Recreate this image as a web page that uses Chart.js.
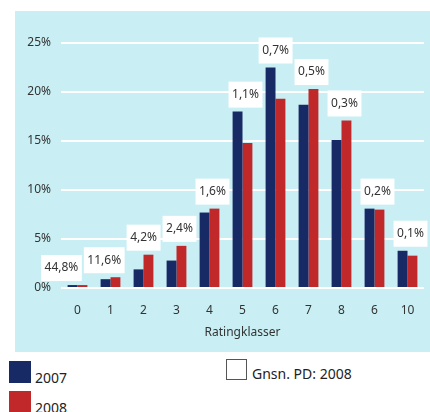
<!DOCTYPE html>
<html>
<head>
<meta charset="utf-8">
<script src="https://cdn.jsdelivr.net/npm/chart.js@4/dist/chart.umd.min.js"></script>
<style>
  html, body { margin: 0; padding: 0; background: #ffffff; width: 430px; height: 412px; overflow: hidden; position: relative; font-family: "Noto Sans", sans-serif; }
  #panel { position: absolute; left: 15px; top: 11px; width: 415px; height: 341px; background: #c9eff4; }
  #wrap { position: absolute; left: 15px; top: 11px; width: 415px; height: 341px; }
  .sw { position: absolute; width: 22px; height: 22px; }
  .lt { position: absolute; font-size: 14px; color: #222; line-height: 16px; white-space: nowrap; }
</style>
</head>
<body>
<div id="panel"></div>
<div id="wrap"><canvas id="c" width="415" height="341"></canvas></div>
<div class="sw" style="left:9px;top:361px;background:#172a66;"></div>
<div class="lt" style="left:35px;top:370px;">2007</div>
<div class="sw" style="left:9px;top:391px;background:#c0282a;"></div>
<div class="lt" style="left:35px;top:400px;">2008</div>
<div class="sw" style="left:226px;top:359px;width:19px;height:19px;border:1.5px solid #555;background:#fff;"></div>
<div class="lt" style="left:252px;top:366px;">Gnsn. PD: 2008</div>
<script>
const categories = ["0", "1", "2", "3", "4", "5", "6", "7", "8", "6", "10"];
const values2007 = [0.3, 0.9, 1.9, 2.8, 7.7, 18.0, 22.5, 18.7, 15.1, 8.1, 3.8];
const values2008 = [0.3, 1.1, 3.4, 4.3, 8.1, 14.8, 19.3, 20.3, 17.1, 8.0, 3.3];
const pdLabels = ["44,8%", "11,6%", "4,2%", "2,4%", "1,6%", "1,1%", "0,7%", "0,5%", "0,3%", "0,2%", "0,1%"];
const yTicks = [0, 5, 10, 15, 20, 25];

const pdBoxes = {
  id: 'pdBoxes',
  afterDatasetsDraw(chart) {
    const ctx = chart.ctx;
    const x = chart.scales.x, y = chart.scales.y;
    ctx.save();
    ctx.font = '12px "Noto Sans", sans-serif';
    ctx.textAlign = 'center';
    ctx.textBaseline = 'middle';
    const h = 26;
    const boxes = pdLabels.map((lab, i) => {
      const top = Math.min(y.getPixelForValue(values2007[i]), y.getPixelForValue(values2008[i]));
      const w = ctx.measureText(lab).width + 7;
      const cx = x.getPixelForValue(i) + 3;
      return { lab, left: cx - w / 2, w, bottom: top - 4 };
    });
    for (let i = boxes.length - 2; i >= 0; i--) {
      const a = boxes[i], b = boxes[i + 1];
      const vOverlap = a.bottom > b.bottom - h && b.bottom > a.bottom - h;
      const limit = b.left - 2;
      if (vOverlap && a.left + a.w > limit) a.left = limit - a.w;
    }
    boxes.forEach(b => {
      ctx.fillStyle = '#ffffff';
      ctx.fillRect(b.left, b.bottom - h, b.w, h);
      ctx.fillStyle = '#333333';
      ctx.fillText(b.lab, b.left + b.w / 2, b.bottom - h / 2);
    });
    ctx.restore();
  }
};

new Chart(document.getElementById('c'), {
  type: 'bar',
  data: {
    labels: categories,
    datasets: [
      { label: '2007', data: values2007, backgroundColor: '#172a66', categoryPercentage: 0.6, barPercentage: 1.0 },
      { label: '2008', data: values2008, backgroundColor: '#c0282a', categoryPercentage: 0.6, barPercentage: 1.0 }
    ]
  },
  options: {
    responsive: false,
    animation: false,
    events: [],
    layout: { padding: { top: 32, right: 6, left: 0, bottom: 0 } },
    plugins: { legend: { display: false }, tooltip: { enabled: false } },
    scales: {
      x: {
        grid: { display: false, drawTicks: false },
        border: { display: false },
        ticks: { color: '#333', font: { size: 12, family: '"Noto Sans", sans-serif' }, padding: 15, maxRotation: 0, autoSkip: false },
        title: { display: true, text: 'Ratingklasser', color: '#333', font: { size: 12, family: '"Noto Sans", sans-serif' }, padding: { top: 0, bottom: 12 } },
        afterFit(s) { s.height = 64; }
      },
      y: {
        min: 0, max: 25,
        afterBuildTicks(s) { s.ticks = yTicks.map(v => ({ value: v })); },
        grid: { color: '#ffffff', lineWidth: 2, drawTicks: false },
        border: { display: false },
        ticks: { color: '#333', font: { size: 12, family: '"Noto Sans", sans-serif' }, padding: 10, callback: v => v + '%' },
        afterFit(s) { s.width = 46; }
      }
    }
  },
  plugins: [pdBoxes]
});
</script>
</body>
</html>
